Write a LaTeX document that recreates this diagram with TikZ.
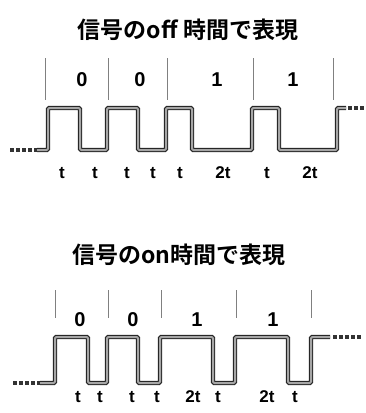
\documentclass[tikz,border=0pt]{standalone}
\usepackage{fontspec}
\newfontfamily\jpfont{Noto Sans CJK JP}[BoldFont={Noto Sans CJK JP Bold}]
\newfontfamily\numfont{Liberation Sans}
\begin{document}
\begin{tikzpicture}[x=1pt,y=-1pt,
  wave/.style={draw=black!85, double=black!35, line width=1.1pt, double distance=2pt, rounded corners=1.2pt},
  dotend/.style={draw=black!80, line width=3.5pt, dash pattern=on 3.5pt off 2.5pt},
  divider/.style={draw=black!50, line width=0.6pt},
  title/.style={font=\jpfont\bfseries\fontsize{23}{25}\selectfont, inner sep=0pt},
  bitlbl/.style={font=\numfont\bfseries\fontsize{20}{22}\selectfont, inner sep=0pt},
  tlbl/.style={font=\numfont\bfseries\fontsize{17}{19}\selectfont, inner sep=0pt}]
\useasboundingbox (0,0) rectangle (365,413);
% ---------- top: off time ----------
\node[title] (t1) at (188,30) {信号のoff 時間で表現};
\foreach \x [count=\i] in {45,108,167,253,333}
  \draw[divider] (\x,58) -- (\x,100);
\foreach \x/\b [count=\i] in {82/0,140/0,217/1,293/1}
  \node[bitlbl] (a\i) at (\x,80) {\b};
\draw[dotend] (10,150) -- (38,150);
\draw[wave] (37,150) -- (48,150) -- (48,108) -- (80,108) -- (80,150) -- (107,150) -- (107,108)
  -- (138,108) -- (138,150) -- (166,150) -- (166,108) -- (192,108) -- (192,150) -- (252,150)
  -- (252,108) -- (279,108) -- (279,150) -- (337,150) -- (337,108) -- (346,108);
\draw[dotend] (348,108) -- (365,108);
\foreach \x/\l [count=\i] in {62/t,95/t,127/t,153/t,180/t,223/2t,267/t,310/2t}
  \node[tlbl] (b\i) at (\x,173) {\l};
% ---------- bottom: on time ----------
\node[title] (t2) at (179,255) {信号のon時間で表現};
\foreach \x in {55,108,161,236,311}
  \draw[divider] (\x,290) -- (\x,318);
\foreach \x/\b [count=\i] in {80/0,133/0,197/1,273/1}
  \node[bitlbl] (c\i) at (\x,320) {\b};
\draw[dotend] (13,383) -- (40,383);
\draw[wave] (40,383) -- (55,383) -- (55,337) -- (88,337) -- (88,383) -- (107,383) -- (107,337)
  -- (138,337) -- (138,383) -- (160,383) -- (160,337) -- (213,337) -- (213,383) -- (235,383)
  -- (235,337) -- (288,337) -- (288,383) -- (311,383) -- (311,337) -- (330,337);
\draw[dotend] (333,337) -- (362,337);
\foreach \x/\l [count=\i] in {78/t,100/t,132/t,157/t,193/2t,218/t,267/2t,295/t}
  \node[tlbl] (d\i) at (\x,397) {\l};
\end{tikzpicture}
\end{document}
